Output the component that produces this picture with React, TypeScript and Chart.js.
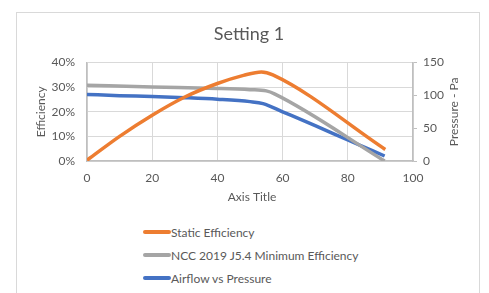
import React, { useEffect, useRef } from "react";
import { Chart, registerables } from "chart.js";

Chart.register(...registerables);

const chartTitle = "Setting 1";
const xAxisTitle = "Axis Title";
const leftAxisTitle = "Efficiency";
const rightAxisTitle = "Pressure - Pa";

const staticEffX = [0, 10, 20, 30, 40, 48, 53.5, 57, 91.5];
const staticEffY = [0.3, 10.0, 18.6, 26, 31.5, 34.8, 36.2, 35.0, 4.7];

const nccX = [0, 20, 40, 50, 55, 57.5, 91.3];
const nccY = [30.8, 30.1, 29.5, 29.0, 28.5, 27.3, 0];

const airX = [0, 10, 20, 30, 40, 50, 54, 60, 70, 80, 91.3];
const airY = [101.5, 99.6, 98.5, 96.6, 94.2, 90.5, 87.5, 75, 54, 32, 7.6];

const seriesNames = ["Static Efficiency", "NCC 2019 J5.4 Minimum Efficiency", "Airflow vs Pressure"];
const seriesColors = ["#ED7D31", "#A5A5A5", "#4472C4"];

const FONT = "Lato, 'Open Sans', sans-serif";
const TXT = "#595959";

function pts(xs: number[], ys: number[]) {
  return xs.map((x, i) => ({ x, y: ys[i] }));
}

const axisTitles = {
  id: "axisTitles",
  afterDraw(chart: any) {
    const { ctx, chartArea } = chart;
    const midY = (chartArea.top + chartArea.bottom) / 2;
    ctx.save();
    ctx.fillStyle = TXT;
    ctx.font = `12px ${FONT}`;
    ctx.textAlign = "center";
    ctx.textBaseline = "middle";
    ctx.fillText(xAxisTitle, (chartArea.left + chartArea.right) / 2 + 2, chartArea.bottom + 36);
    ctx.save();
    ctx.translate(chartArea.left - 46, midY);
    ctx.rotate(-Math.PI / 2);
    ctx.fillText(leftAxisTitle, 0, 0);
    ctx.restore();
    ctx.save();
    ctx.translate(chartArea.right + 41, midY);
    ctx.rotate(-Math.PI / 2);
    ctx.fillText(rightAxisTitle, 0, 0);
    ctx.restore();
    ctx.restore();
  },
};

export default function App() {
  const ref = useRef<HTMLCanvasElement>(null);
  useEffect(() => {
    if (!ref.current) return;
    const common = {
      showLine: true,
      borderWidth: 3.5,
      pointRadius: 0,
      cubicInterpolationMode: "monotone" as const,
    };
    const chart = new Chart(ref.current, {
      type: "scatter",
      data: {
        datasets: [
          {
            ...common,
            label: seriesNames[0],
            data: pts(staticEffX, staticEffY),
            borderColor: seriesColors[0],
            backgroundColor: seriesColors[0],
            yAxisID: "y",
          },
          {
            ...common,
            label: seriesNames[1],
            data: pts(nccX, nccY),
            borderColor: seriesColors[1],
            backgroundColor: seriesColors[1],
            yAxisID: "y",
          },
          {
            ...common,
            label: seriesNames[2],
            data: pts(airX, airY),
            borderColor: seriesColors[2],
            backgroundColor: seriesColors[2],
            yAxisID: "y2",
          },
        ],
      },
      options: {
        animation: false,
        responsive: false,
        maintainAspectRatio: false,
        layout: { padding: 0 },
        plugins: {
          legend: { display: false },
          tooltip: { enabled: false },
          title: {
            display: true,
            text: chartTitle,
            color: TXT,
            font: { family: FONT, size: 18, weight: "normal" },
            padding: { top: 10, bottom: 18 },
          },
        },
        scales: {
          x: {
            type: "linear",
            min: 0,
            max: 100,
            ticks: { stepSize: 20, color: TXT, font: { family: FONT, size: 12 }, padding: 10 },
            grid: { color: "#d9d9d9", lineWidth: 1, drawTicks: false },
            border: { color: "#bfbfbf", width: 1.5 },
            afterFit: (s: any) => {
              s.height = 52;
            },
          },
          y: {
            type: "linear",
            position: "left",
            min: 0,
            max: 40,
            ticks: {
              stepSize: 10,
              color: TXT,
              font: { family: FONT, size: 12 },
              padding: 12,
              callback: (v: any) => v + "%",
            },
            grid: { color: "#d9d9d9", lineWidth: 1, drawTicks: false },
            border: { color: "#bfbfbf", width: 1.5 },
            afterFit: (s: any) => {
              s.width = 70;
            },
          },
          y2: {
            type: "linear",
            position: "right",
            min: 0,
            max: 150,
            ticks: { stepSize: 50, color: TXT, font: { family: FONT, size: 12 }, padding: 6 },
            grid: { drawOnChartArea: false, color: "#bfbfbf", tickLength: 4 },
            border: { color: "#bfbfbf", width: 1.5 },
            afterFit: (s: any) => {
              s.width = 68;
            },
          },
        },
      },
      plugins: [axisTitles],
    });
    return () => chart.destroy();
  }, []);

  return (
    <div
      style={{
        position: "absolute",
        left: 16,
        top: 12,
        width: 464,
        height: 290,
        border: "1px solid #d9d9d9",
        background: "#fff",
        boxSizing: "border-box",
      }}
    >
      <canvas ref={ref} width={464} height={200} style={{ display: "block", width: 464, height: 200 }} />
      {seriesNames.map((n, i) => (
        <div
          key={n}
          style={{
            position: "absolute",
            left: 126,
            top: 210 + i * 23,
            height: 18,
            display: "flex",
            alignItems: "center",
            fontFamily: FONT,
            fontSize: 12,
            color: TXT,
            whiteSpace: "nowrap",
          }}
        >
          <span style={{ display: "inline-block", width: 28, height: 4, background: seriesColors[i], borderRadius: 2 }} />
          <span>{n}</span>
        </div>
      ))}
    </div>
  );
}
